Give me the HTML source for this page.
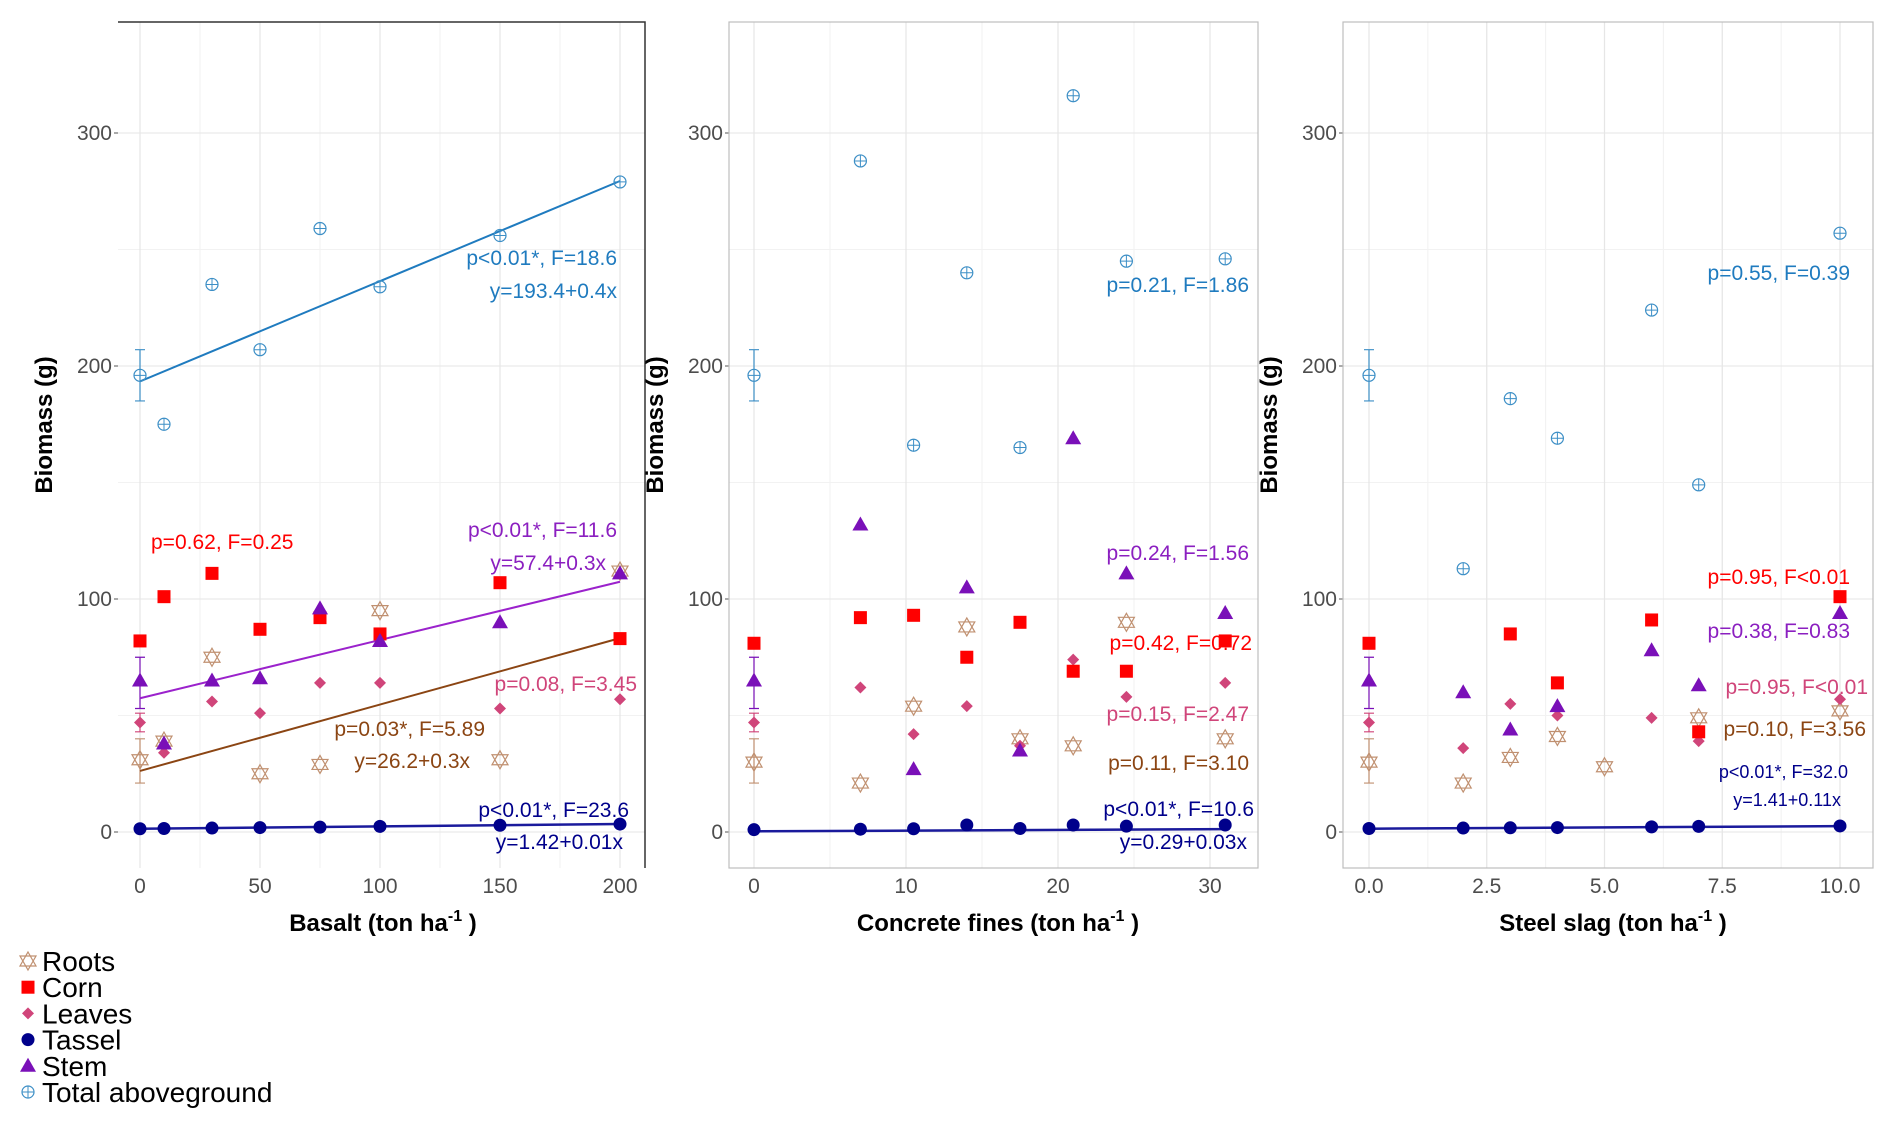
<!DOCTYPE html>
<html><head><meta charset="utf-8"><style>
body{margin:0;background:#fff}
svg{display:block;font-family:"Liberation Sans",Arial,sans-serif}
</style></head><body>
<svg id="chart" width="1892" height="1126" viewBox="0 0 1892 1126" xmlns="http://www.w3.org/2000/svg"></svg>
<script>
const seriesNames=["Roots","Corn","Leaves","Tassel","Stem","Total aboveground"];
const basaltX=[0,10,30,50,75,100,150,200];
const basaltTotal=[196,175,235,207,259,234,256,279];
const basaltCorn=[82,101,111,87,92,85,107,83];
const basaltStem=[65,38,65,66,96,82,90,111];
const basaltLeaves=[47,34,56,51,64,64,53,57];
const basaltRoots=[31,39,75,25,29,95,31,112];
const basaltTassel=[1.4,1.5,1.7,1.9,2.1,2.4,2.9,3.4];
const concreteX=[0,7,10.5,14,17.5,21,24.5,31];
const concreteTotal=[196,288,166,240,165,316,245,246];
const concreteCorn=[81,92,93,75,90,69,69,82];
const concreteStem=[65,132,27,105,35,169,111,94];
const concreteLeaves=[47,62,42,54,37,74,58,64];
const concreteRoots=[30,21,54,88,40,37,90,40];
const concreteTassel=[1,1.2,1.4,3,1.5,3,2.5,3];
const slagX=[0,2,3,4,5,6,7,10];
const slagTotal=[196,113,186,169,null,224,149,257];
const slagCorn=[81,null,85,64,null,91,43,101];
const slagStem=[65,60,44,54,null,78,63,94];
const slagLeaves=[47,36,55,50,null,49,39,57];
const slagRoots=[30,21,32,41,28,null,49,52];
const slagTassel=[1.5,1.7,1.8,1.9,null,2.2,2.4,2.6];
const basaltFits={total:[193.4,0.43],stem:[57.4,0.25],roots:[26.2,0.285],tassel:[1.42,0.01]};
const concreteFits={tassel:[0.29,0.03]};
const slagFits={tassel:[1.41,0.11]};
const yTicks=[0,100,200,300];

const NS="http://www.w3.org/2000/svg";
const svg=document.getElementById('chart');
function mk(tag,attrs,parent){const e=document.createElementNS(NS,tag);for(const k in attrs)e.setAttribute(k,attrs[k]);(parent||svg).appendChild(e);return e;}
const C={total:"#3d8fc6",corn:"#ff0000",stem:"#7a10b8",leaves:"#d0457a",roots:"#c09070",tassel:"#00008b"};
const LC={total:"#1f7bbf",stem:"#9b22cc",roots:"#8b4513",tassel:"#1a1a9c"};

function marker(g,type,cx,cy){
  let e;
  if(type==='total'){e=mk('g',{},g);mk('circle',{cx,cy,r:6,fill:'none',stroke:C.total,'stroke-width':1.2},e);mk('path',{d:`M${cx-6} ${cy}H${cx+6}M${cx} ${cy-6}V${cy+6}`,stroke:C.total,'stroke-width':1},e);}
  else if(type==='corn'){e=mk('rect',{x:cx-6.5,y:cy-6.5,width:13,height:13,fill:C.corn},g);}
  else if(type==='stem'){e=mk('path',{d:`M${cx} ${cy-8}L${cx+8} ${cy+6}L${cx-8} ${cy+6}Z`,fill:C.stem},g);}
  else if(type==='leaves'){e=mk('path',{d:`M${cx} ${cy-6}L${cx+6} ${cy}L${cx} ${cy+6}L${cx-6} ${cy}Z`,fill:C.leaves},g);}
  else if(type==='tassel'){e=mk('circle',{cx,cy,r:6.5,fill:C.tassel},g);}
  else {e=mk('path',{d:`M${cx} ${cy-9}L${cx+8} ${cy+5}L${cx-8} ${cy+5}ZM${cx} ${cy+9}L${cx+8} ${cy-5}L${cx-8} ${cy-5}Z`,fill:'none',stroke:C.roots,'stroke-width':1.2},g);}
  
  
}

function panel(cfg){
  const g=mk('g',{});
  
  
  const L=cfg.left,R=cfg.right,T=22,B=868;
  const sx=v=>cfg.px0+(v-cfg.x0)/(cfg.x1-cfg.x0)*(cfg.px1-cfg.px0);
  const sy=v=>832-v*(832-133)/300;
  for(let v=cfg.x0-cfg.minor;v<=cfg.x1+cfg.minor*1.01;v+=cfg.minor){const x=sx(v);if(x<L||x>R)continue;mk('line',{x1:x,x2:x,y1:T,y2:B,stroke:'#f0f0f0','stroke-width':1},g);}
  for(let v=-50;v<=350;v+=50){const y=sy(v);if(y<T||y>B)continue;mk('line',{x1:L,x2:R,y1:y,y2:y,stroke:v%100===0?'#e6e6e6':'#f2f2f2','stroke-width':1},g);}
  cfg.xticks.forEach((v,i)=>{const x=sx(v);mk('line',{x1:x,x2:x,y1:T,y2:B,stroke:'#e6e6e6','stroke-width':1.2},g);
    const t=mk('text',{x,y:893,'text-anchor':'middle','font-size':21,fill:'#4d4d4d'},g);t.textContent=cfg.xlabels[i];
    });
  yTicks.forEach(v=>{const y=sy(v);mk('line',{x1:L-4,x2:L,y1:y,y2:y,stroke:'#555'},g);
    const t=mk('text',{x:L-6,y:y+7,'text-anchor':'end','font-size':21,fill:'#4d4d4d'},g);t.textContent=v;
    });
  if(cfg.name==='basalt-panel'){mk('path',{d:`M${L} ${T}H${R}V${B}`,fill:'none',stroke:'#333','stroke-width':1.5},g);}
  else mk('rect',{x:L,y:T,width:R-L,height:B-T,fill:'none',stroke:'#bdbdbd','stroke-width':1.2},g);
  const eb=(v,lo,hi,col)=>{const x=sx(cfg.x0);mk('path',{d:`M${x} ${sy(lo)}V${sy(hi)}M${x-5} ${sy(lo)}H${x+5}M${x-5} ${sy(hi)}H${x+5}`,stroke:col,'stroke-width':1.2},g);};
  eb(0,185,207,C.total);eb(0,21,40,C.roots);eb(0,53,75,C.stem);eb(0,43,51,C.leaves);
  for(const k in cfg.fits){const [a,b]=cfg.fits[k];const l=mk('line',{x1:sx(cfg.x0),y1:sy(a+b*cfg.x0),x2:sx(cfg.xmax),y2:sy(a+b*cfg.xmax),stroke:LC[k],'stroke-width':k==='tassel'?2.5:2},g);
    }
  const data={total:cfg.total,roots:cfg.roots,leaves:cfg.leaves,corn:cfg.corn,stem:cfg.stem,tassel:cfg.tassel};
  for(const k in data){data[k].forEach((v,i)=>{if(v==null)return;marker(g,k,sx(cfg.xs[i]),sy(v));});}
  cfg.notes.forEach(n=>{const t=mk('text',{x:n[0],y:n[1],'text-anchor':n[4]||'end','font-size':n[5]||21,fill:n[3]},g);t.textContent=n[2];
    });
  const yt=mk('text',{x:0,y:0,transform:`translate(${L-66},${(T+B)/2-20}) rotate(-90)`,'text-anchor':'middle','font-size':24,'font-weight':'bold',fill:'#000'},g);
  yt.textContent='Biomass (g)';
  const xt=mk('text',{x:cfg.titleX,y:931,'text-anchor':'middle','font-size':24,'font-weight':'bold',fill:'#000'},g);
  xt.innerHTML=cfg.title+' (ton ha<tspan dy="-10" font-size="16">-1</tspan><tspan dy="10"> )</tspan>';
  
}
panel({name:'basalt-panel',left:118,right:645,px0:140,px1:620,x0:0,x1:200,xmax:200,minor:25,xticks:[0,50,100,150,200],xlabels:['0','50','100','150','200'],
  xs:basaltX,total:basaltTotal,corn:basaltCorn,stem:basaltStem,leaves:basaltLeaves,roots:basaltRoots,tassel:basaltTassel,fits:basaltFits,title:'Basalt',titleX:383,
  notes:[[617,265,'p<0.01*, F=18.6',LC.total],[617,298,'y=193.4+0.4x',LC.total],[151,549,'p=0.62, F=0.25','#ff0000','start'],[617,537,'p<0.01*, F=11.6','#8b1fc0'],[606,570,'y=57.4+0.3x','#8b1fc0'],[637,691,'p=0.08, F=3.45',C.leaves],[485,736,'p=0.03*, F=5.89','#8b4513'],[470,768,'y=26.2+0.3x','#8b4513'],[629,817,'p<0.01*, F=23.6',C.tassel],[623,849,'y=1.42+0.01x',C.tassel]]});
panel({name:'concrete-panel',left:729,right:1258,px0:754,px1:1210,x0:0,x1:30,xmax:31,minor:5,xticks:[0,10,20,30],xlabels:['0','10','20','30'],
  xs:concreteX,total:concreteTotal,corn:concreteCorn,stem:concreteStem,leaves:concreteLeaves,roots:concreteRoots,tassel:concreteTassel,fits:concreteFits,title:'Concrete fines',titleX:998,
  notes:[[1249,292,'p=0.21, F=1.86',LC.total],[1249,560,'p=0.24, F=1.56','#8b1fc0'],[1252,650,'p=0.42, F=0.72','#ff0000'],[1249,721,'p=0.15, F=2.47',C.leaves],[1249,770,'p=0.11, F=3.10','#8b4513'],[1254,816,'p<0.01*, F=10.6',C.tassel],[1247,849,'y=0.29+0.03x',C.tassel]]});
panel({name:'steel-slag-panel',left:1343,right:1873,px0:1369,px1:1840,x0:0,x1:10,xmax:10,minor:1.25,xticks:[0,2.5,5,7.5,10],xlabels:['0.0','2.5','5.0','7.5','10.0'],
  xs:slagX,total:slagTotal,corn:slagCorn,stem:slagStem,leaves:slagLeaves,roots:slagRoots,tassel:slagTassel,fits:slagFits,title:'Steel slag',titleX:1613,
  notes:[[1850,280,'p=0.55, F=0.39',LC.total],[1850,584,'p=0.95, F<0.01','#ff0000'],[1850,638,'p=0.38, F=0.83','#8b1fc0'],[1868,694,'p=0.95, F<0.01',C.leaves],[1866,736,'p=0.10, F=3.56','#8b4513'],[1848,778,'p<0.01*, F=32.0',C.tassel,'end',18],[1841,806,'y=1.41+0.11x',C.tassel,'end',18]]});
const lg=mk('g',{});


const keys=['roots','corn','leaves','tassel','stem','total'];
keys.forEach((k,i)=>{const y=961+i*26.2;marker(lg,k,28,y);
  const t=mk('text',{x:42,y:y+10,'font-size':28,fill:'#000'},lg);t.textContent=seriesNames[i];
  });
</script>
</body></html>
